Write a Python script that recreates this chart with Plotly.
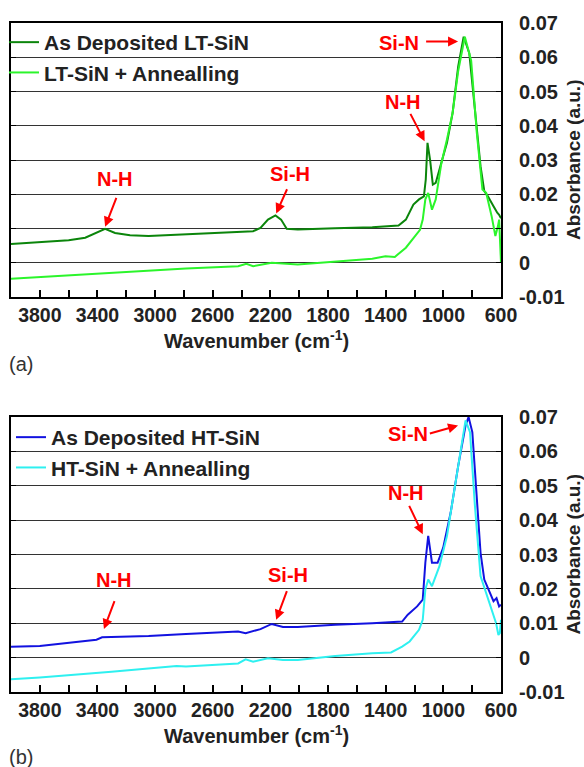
import plotly.graph_objects as go

# ---------------- data ----------------
LT_DEP_WN = [4000, 3800, 3600, 3485, 3407, 3347, 3278, 3174, 3045, 2786, 2527, 2320, 2269,
             2217, 2165, 2126, 2087, 2010, 1751, 1493, 1311, 1260, 1208, 1169, 1135, 1122,
             1110, 1092, 1073, 1053, 1014, 975, 936, 897, 859, 820, 781, 742, 716, 691,
             652, 639, 626, 613, 600]
LT_DEP_ABS = [0.0055, 0.0060, 0.0066, 0.0073, 0.0087, 0.0099, 0.0087, 0.0080, 0.0078, 0.0083,
              0.0087, 0.0092, 0.0102, 0.0126, 0.0138, 0.0126, 0.0099, 0.0097, 0.0101, 0.0104,
              0.0109, 0.0126, 0.0170, 0.0185, 0.0194, 0.0243, 0.0350, 0.0300, 0.0228, 0.0233,
              0.0292, 0.0350, 0.0437, 0.0573, 0.0660, 0.0612, 0.0447, 0.0282, 0.0209, 0.0194,
              0.0165, 0.0155, 0.0146, 0.0140, 0.0130]

LT_ANN_WN = [4000, 3800, 3303, 2786, 2424, 2367, 2320, 2191, 2010, 1751, 1493, 1402, 1337,
             1260, 1182, 1162, 1143, 1125, 1105, 1079, 1053, 1014, 975, 936, 897, 851, 807,
             768, 729, 703, 665, 639, 621, 613, 600]
LT_ANN_ABS = [-0.0047, -0.0042, -0.0029, -0.0017, -0.0010, -0.0003, -0.0010, 0.0000, -0.0005,
              0.0004, 0.0012, 0.0019, 0.0017, 0.0044, 0.0087, 0.0096, 0.0126, 0.0185, 0.0204,
              0.0155, 0.0185, 0.0290, 0.0360, 0.0437, 0.0560, 0.0660, 0.0590, 0.0380, 0.0214,
              0.0204, 0.0136, 0.0078, 0.0107, 0.0126, 0.0000]

HT_DEP_WN = [4000, 3800, 3407, 3368, 3303, 3045, 2786, 2424, 2372, 2269, 2191, 2113, 2010,
             1751, 1493, 1286, 1247, 1182, 1143, 1125, 1105, 1079, 1040, 1001, 949, 897, 846,
             825, 799, 768, 742, 716, 678, 652, 631, 613, 600]
HT_DEP_ABS = [0.0032, 0.0034, 0.0052, 0.0059, 0.0060, 0.0063, 0.0069, 0.0076, 0.0071, 0.0083,
              0.0098, 0.0089, 0.0089, 0.0096, 0.0100, 0.0105, 0.0125, 0.0149, 0.0169, 0.0276,
              0.0354, 0.0276, 0.0276, 0.0320, 0.0422, 0.0558, 0.0675, 0.0700, 0.0656, 0.0451,
              0.0305, 0.0227, 0.0188, 0.0164, 0.0173, 0.0149, 0.0154]

HT_ANN_WN = [4000, 3800, 3303, 3019, 2851, 2786, 2424, 2372, 2320, 2217, 2113, 2010, 1751,
             1493, 1363, 1286, 1234, 1169, 1143, 1125, 1105, 1079, 1027, 975, 923, 872, 846,
             815, 781, 742, 703, 665, 634, 618, 608, 600]
HT_ANN_ABS = [-0.0063, -0.0058, -0.0041, -0.0031, -0.0024, -0.0026, -0.0017, -0.0005, -0.0012,
              -0.0002, -0.0007, -0.0007, 0.0005, 0.0013, 0.0015, 0.0032, 0.0047, 0.0081, 0.0110,
              0.0198, 0.0227, 0.0208, 0.0266, 0.0354, 0.0490, 0.0627, 0.0690, 0.0656, 0.0442,
              0.0237, 0.0188, 0.0139, 0.0100, 0.0066, 0.0071, 0.0110]

SERIES_NAMES = ["As Deposited LT-SiN", "LT-SiN + Annealling",
                "As Deposited HT-SiN", "HT-SiN + Annealling"]

XTICK_VALS = [3800, 3400, 3000, 2600, 2200, 1800, 1400, 1000, 600]
XTICK_TEXT = ["3800", "3400", "3000", "2600", "2200", "1800", "1400", "1000", "600"]
XMINOR_VALS = [3600, 3200, 2800, 2400, 2000, 1600, 1200, 800]
YTICK_VALS = [-0.01, 0, 0.01, 0.02, 0.03, 0.04, 0.05, 0.06, 0.07]
YTICK_TEXT = ["-0.01", "0", "0.01", "0.02", "0.03", "0.04", "0.05", "0.06", "0.07"]

X_TITLE = "Wavenumber (cm<sup>-1</sup>)"
Y_TITLE = "Absorbance (a.u.)"
PANEL_LABELS = ["(a)", "(b)"]

# peak labels: (text, text_x, text_y, arrow_tail_x, arrow_tail_y, arrow_head_x, arrow_head_y)
LT_PEAKS = [
    ("Si-N", 1311, 0.0643, 1130, 0.0646, 898, 0.0646),
    ("N-H", 1278, 0.0468, 1234, 0.0439, 1130, 0.0355),
    ("Si-H", 2062, 0.0258, 2080, 0.0219, 2160, 0.0144),
    ("N-H", 3278, 0.0246, 3265, 0.0194, 3347, 0.0105),
]
HT_PEAKS = [
    ("Si-N", 1247, 0.0651, 1104, 0.0651, 898, 0.0675),
    ("N-H", 1260, 0.0479, 1242, 0.0446, 1143, 0.0359),
    ("Si-H", 2080, 0.0239, 2082, 0.0198, 2160, 0.0110),
    ("N-H", 3285, 0.0227, 3278, 0.0169, 3355, 0.0083),
]

# ---------------- styling ----------------
FONT = "Liberation Sans, Arial, Helvetica, sans-serif"
COLORS = ["#0b850b", "#2bf52b", "#1212e0", "#2ef0f0"]
W, H = 584, 767
XDOM = [11 / W, 501 / W]
TOP_DOM = [1 - 297 / H, 1 - 23 / H]
BOT_DOM = [1 - 692 / H, 1 - 417 / H]

fig = go.Figure()
fig.add_trace(go.Scatter(x=LT_DEP_WN, y=LT_DEP_ABS, name=SERIES_NAMES[0], mode="lines",
                         line=dict(color=COLORS[0], width=2), xaxis="x", yaxis="y", legend="legend"))
fig.add_trace(go.Scatter(x=LT_ANN_WN, y=LT_ANN_ABS, name=SERIES_NAMES[1], mode="lines",
                         line=dict(color=COLORS[1], width=2), xaxis="x", yaxis="y", legend="legend"))
fig.add_trace(go.Scatter(x=HT_DEP_WN, y=HT_DEP_ABS, name=SERIES_NAMES[2], mode="lines",
                         line=dict(color=COLORS[2], width=2), xaxis="x2", yaxis="y2", legend="legend2"))
fig.add_trace(go.Scatter(x=HT_ANN_WN, y=HT_ANN_ABS, name=SERIES_NAMES[3], mode="lines",
                         line=dict(color=COLORS[3], width=2), xaxis="x2", yaxis="y2", legend="legend2"))

def xaxis_style(anchor):
    return dict(
        domain=XDOM, anchor=anchor, range=[4000, 600],
        tickmode="array", tickvals=XTICK_VALS, ticktext=XTICK_TEXT,
        ticks="inside", ticklen=7, tickwidth=1.5, tickcolor="black",
        minor=dict(tickmode="array", tickvals=XMINOR_VALS, ticks="inside", ticklen=7,
                   tickwidth=1.5, tickcolor="black", showgrid=False),
        tickfont=dict(family=FONT, size=19.5, color="#222", weight="bold"),
        ticklabelstandoff=0,
        showline=True, linecolor="black", linewidth=2, mirror=True,
        showgrid=False, zeroline=False, automargin=False,
    )

def yaxis_style(domain, anchor):
    return dict(
        domain=domain, anchor=anchor, side="right", range=[-0.01, 0.07],
        tickmode="array", tickvals=YTICK_VALS, ticktext=YTICK_TEXT,
        ticks="inside", ticklen=5, tickcolor="black",
        tickfont=dict(family=FONT, size=20, color="#222", weight="bold"),
        ticklabelstandoff=12,
        showline=True, linecolor="black", linewidth=2, mirror="ticks",
        showgrid=True, gridcolor="#333", gridwidth=1, zeroline=False,
        automargin=False,
    )

annotations = []
for peaks, xr, yr in [(LT_PEAKS, "x", "y"), (HT_PEAKS, "x2", "y2")]:
    for txt, tx, ty, ax, ay, hx, hy in peaks:
        annotations.append(dict(x=tx, y=ty, xref=xr, yref=yr, text=txt, showarrow=False,
                                font=dict(family=FONT, size=20, color="#ff0000", weight="bold")))
        annotations.append(dict(x=hx, y=hy, ax=ax, ay=ay, xref=xr, yref=yr, axref=xr, ayref=yr,
                                text="", showarrow=True, arrowhead=2, arrowsize=1,
                                arrowwidth=2, arrowcolor="#ff0000"))

title_font = dict(family=FONT, size=20, color="#222", weight="bold")
for dom, xt_y in [(TOP_DOM, 339), (BOT_DOM, 734)]:
    annotations.append(dict(x=256 / W, y=1 - xt_y / H, xref="paper", yref="paper", text=X_TITLE,
                            showarrow=False, xanchor="center", yanchor="middle", font=title_font))
    annotations.append(dict(x=573 / W, y=(dom[0] + dom[1]) / 2, xref="paper", yref="paper",
                            text=Y_TITLE, textangle=-90, showarrow=False,
                            xanchor="center", yanchor="middle",
                            font=dict(family=FONT, size=19, color="#222", weight="bold")))
for lab, lab_y in zip(PANEL_LABELS, [364, 757]):
    annotations.append(dict(x=7 / W, y=1 - lab_y / H, xref="paper", yref="paper", text=lab,
                            showarrow=False, xanchor="left", yanchor="middle",
                            font=dict(family=FONT, size=20, color="#333")))

# white panels behind the legends (hide the gridline under the first entry, as in the reference)
shapes = [
    dict(type="rect", xref="paper", yref="paper", layer="between",
         x0=11 / W, x1=248 / W, y0=1 - 62 / H, y1=1 - 23 / H,
         fillcolor="white", line=dict(width=0)),
    dict(type="rect", xref="paper", yref="paper", layer="between",
         x0=11 / W, x1=263 / W, y0=1 - 456 / H, y1=1 - 417 / H,
         fillcolor="white", line=dict(width=0)),
]

legend_common = dict(xanchor="left", yanchor="top", bgcolor="rgba(0,0,0,0)", borderwidth=0,
                     font=dict(family=FONT, size=21, color="#222", weight="bold"),
                     tracegroupgap=0)

fig.update_layout(
    width=W, height=H,
    margin=dict(l=0, r=0, t=0, b=0),
    paper_bgcolor="white", plot_bgcolor="white",
    showlegend=True,
    xaxis=xaxis_style("y"),
    yaxis=yaxis_style(TOP_DOM, "x"),
    xaxis2=xaxis_style("y2"),
    yaxis2=yaxis_style(BOT_DOM, "x2"),
    legend=dict(x=4 / W, y=1 - 22 / H, **legend_common),
    legend2=dict(x=11 / W, y=1 - 417 / H, **legend_common),
    annotations=annotations,
    shapes=shapes,
)

fig.write_html("out.html", config={"displayModeBar": False},
               post_script="document.body.style.margin='0px';document.body.style.overflow='hidden';")
